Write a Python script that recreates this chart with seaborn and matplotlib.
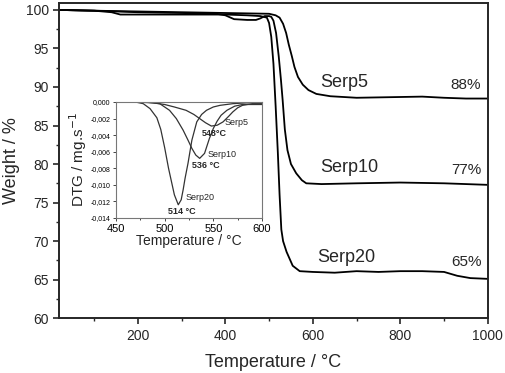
import matplotlib as mpl
import matplotlib.pyplot as plt
from matplotlib.ticker import MultipleLocator, FuncFormatter
import seaborn as sns
import pandas as pd

sns.set_style("ticks")
mpl.rcParams['font.family'] = ['Liberation Sans', 'DejaVu Sans']

# TGA curves (temperature in C, weight in %)
t_serp5 = [20, 100, 200, 300, 400, 450, 500, 515, 524, 532, 539, 545, 552, 558, 566, 577, 590, 608,
           640, 700, 750, 800, 850, 900, 950, 1000]
w_serp5 = [100.0, 99.9, 99.8, 99.7, 99.6, 99.55, 99.5, 99.3, 99.0, 98.2, 97.0, 95.5, 94.0, 92.6, 91.3, 90.3, 89.6, 89.1,
           88.8, 88.6, 88.65, 88.7, 88.75, 88.6, 88.5, 88.5]

t_serp10 = [20, 100, 200, 300, 380, 400, 420, 450, 470, 480, 490, 500, 505, 510, 516, 522, 527, 531, 536, 542,
            550, 562, 575, 585, 620, 700, 800, 900, 950, 1000]
w_serp10 = [100.0, 99.9, 99.7, 99.6, 99.5, 99.3, 98.8, 98.7, 98.7, 98.9, 99.2, 99.2, 99.1, 98.6, 97.0, 94.0,
            91.0, 88.3, 84.5, 81.8, 80.0, 78.8, 77.9, 77.5, 77.4, 77.5, 77.6, 77.5, 77.4, 77.3]

t_serp20 = [20, 100, 140, 160, 200, 300, 400, 450, 480, 495, 500, 505, 510, 515, 520, 524, 528, 532, 540,
            554, 570, 600, 650, 700, 750, 800, 850, 900, 930, 960, 1000]
w_serp20 = [100.0, 99.9, 99.7, 99.4, 99.4, 99.4, 99.4, 99.3, 99.2, 99.0, 98.3, 96.5, 93.0, 87.5, 81.5, 76.0,
            71.5, 70.0, 68.6, 66.8, 66.1, 66.0, 65.9, 66.1, 66.0, 66.1, 66.1, 66.0, 65.5, 65.2, 65.1]

# DTG curves for the inset (mg/s)
dt_serp5 = [450, 470, 488, 500, 510, 522, 530, 536, 542, 548, 554, 560, 566, 570, 575, 580, 590, 600]
dtg_serp5 = [0.0, 0.0, -0.0001, -0.0003, -0.0006, -0.001, -0.0015, -0.002, -0.0025, -0.0029, -0.0028,
             -0.0024, -0.0017, -0.0012, -0.0007, -0.0004, -0.0002, -0.0002]

dt_serp10 = [450, 480, 495, 505, 512, 519, 524, 528, 532, 536, 541, 546, 550, 554, 558, 564, 572, 580, 590, 600]
dtg_serp10 = [0.0, 0.0, -0.0002, -0.001, -0.002, -0.0034, -0.0046, -0.0056, -0.0064, -0.0068, -0.0062,
              -0.0044, -0.0032, -0.0023, -0.0016, -0.001, -0.0005, -0.0003, -0.0003, -0.0003]

dt_serp20 = [450, 470, 478, 485, 492, 496, 500, 504, 507, 510, 514, 517, 519, 521, 524, 528, 533, 538, 543,
             550, 557, 570, 584, 600]
dtg_serp20 = [0.0, 0.0, -0.0002, -0.0008, -0.0019, -0.0033, -0.0055, -0.0080, -0.0096, -0.0112, -0.0124,
              -0.0118, -0.0106, -0.0092, -0.0074, -0.0046, -0.0024, -0.0015, -0.001, -0.0006, -0.0004,
              -0.0002, -0.0001, 0.0]

fig = plt.figure(figsize=(5.05, 3.73), dpi=100)
ax = fig.add_axes([0.117, 0.147, 0.849, 0.845])

for t, w in [(t_serp5, w_serp5), (t_serp10, w_serp10), (t_serp20, w_serp20)]:
    sns.lineplot(x=t, y=w, color='black', linewidth=1.3, sort=False, ax=ax)

ax.set(xlim=(20, 1000), ylim=(60, 100.9))
ax.xaxis.set_major_locator(MultipleLocator(200))
ax.xaxis.set_minor_locator(MultipleLocator(100))
ax.yaxis.set_major_locator(MultipleLocator(5))
ax.yaxis.set_minor_locator(MultipleLocator(2.5))
ax.tick_params(labelsize=10, width=1.2, length=4)
ax.tick_params(which='minor', width=1.0, length=2.5)
for s in ax.spines.values():
    s.set_linewidth(1.4)
ax.set_xlabel('Temperature / °C', fontsize=13, labelpad=8)
ax.set_ylabel('Weight / %', fontsize=13, labelpad=4)

ax.text(616, 90.6, 'Serp5', fontsize=13, va='center')
ax.text(616, 79.5, 'Serp10', fontsize=13, va='center')
ax.text(609, 67.9, 'Serp20', fontsize=13, va='center')
ax.text(950, 90.3, '88%', fontsize=11, va='center', ha='center')
ax.text(950, 79.2, '77%', fontsize=11, va='center', ha='center')
ax.text(952, 67.3, '65%', fontsize=11, va='center', ha='center')

# inset DTG
ins = fig.add_axes([0.2297, 0.4155, 0.289, 0.311])
for t, d in [(dt_serp5, dtg_serp5), (dt_serp10, dtg_serp10), (dt_serp20, dtg_serp20)]:
    sns.lineplot(x=t, y=d, color='#333333', linewidth=0.9, sort=False, ax=ins)
ins.set(xlim=(450, 600), ylim=(-0.014, 0.0))
ins.xaxis.set_major_locator(MultipleLocator(50))
ins.xaxis.set_minor_locator(MultipleLocator(25))
ins.yaxis.set_major_locator(MultipleLocator(0.002))
ins.yaxis.set_major_formatter(FuncFormatter(lambda v, p: f'{v:.3f}'.replace('.', ',').replace('-0,000', '0,000')))
ins.tick_params(axis='y', labelsize=5, length=2.5, width=0.7, pad=1.5, colors='#444444', labelcolor='black')
ins.tick_params(axis='x', labelsize=8, length=2.5, width=0.7, pad=1.5, colors='#444444', labelcolor='black')
ins.tick_params(which='minor', length=1.5, width=0.6)
for s in ins.spines.values():
    s.set_linewidth(0.8)
    s.set_color('#777777')
ins.set_xlabel('Temperature / °C', fontsize=10, labelpad=0)
ins.set_ylabel('DTG / mg.s$^{-1}$', fontsize=11, labelpad=1)

ins.text(562, -0.0025, 'Serp5', fontsize=6.5, va='center')
ins.text(538, -0.0038, '548°C', fontsize=6.5, fontweight='bold', va='center')
ins.text(544.5, -0.0063, 'Serp10', fontsize=6.5, va='center')
ins.text(527.8, -0.0077, '536 °C', fontsize=6.5, fontweight='bold', va='center')
ins.text(521, -0.0115, 'Serp20', fontsize=6.5, va='center')
ins.text(503.8, -0.0132, '514 °C', fontsize=6.5, fontweight='bold', va='center')

fig.savefig('out.png', dpi=100)
